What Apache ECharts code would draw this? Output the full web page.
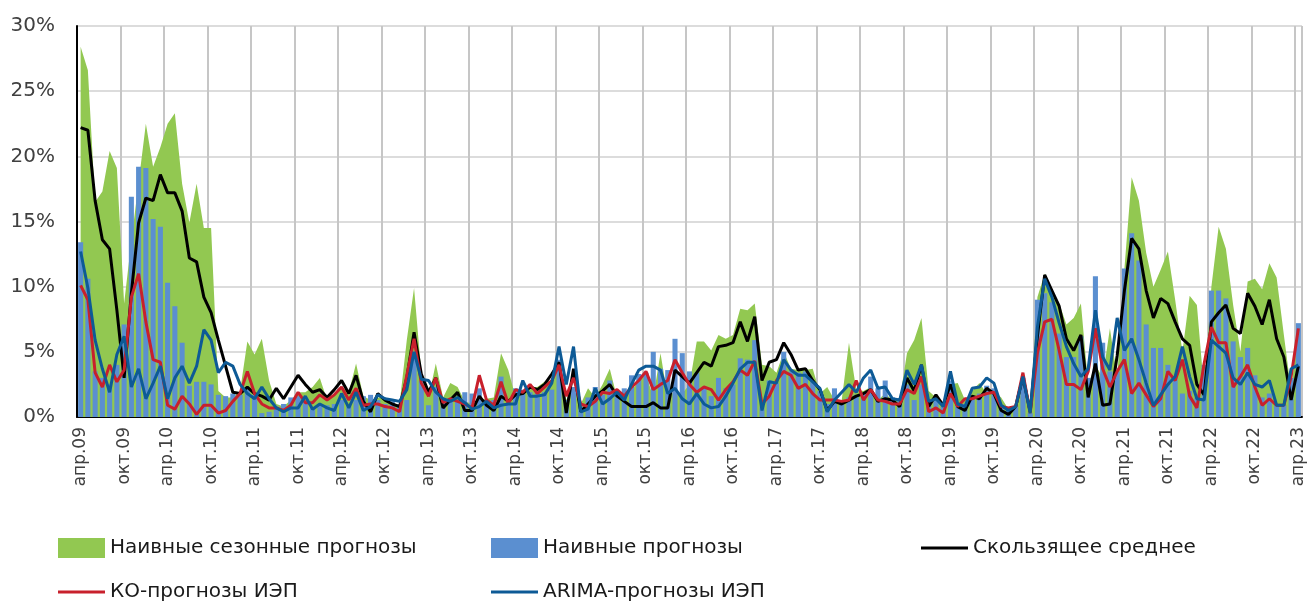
<!DOCTYPE html>
<html>
<head>
<meta charset="utf-8">
<script src="https://cdn.jsdelivr.net/npm/echarts@6/dist/echarts.min.js"></script>
<style>
  html, body { margin: 0; padding: 0; background: #fff; }
  .box { width: 1312px; height: 605px; }
</style>
</head>
<body>
<div class="box"></div>
<script>
// months apr.09 .. apr.23, only apr / okt are labelled
const monthNames = ['апр', 'май', 'июн', 'июл', 'авг', 'сен', 'окт', 'ноя', 'дек', 'янв', 'фев', 'мар'];
const firstYear = 9;
const monthCount = 169;

// naive seasonal forecasts, % (green area)
const seasonal = [
    28.4, 26.6, 16.5, 17.3, 20.4, 19.1, 8.7, 13.5, 18.0, 22.5, 19.2, 20.7,
    22.5, 23.3, 17.9, 14.9, 17.9, 14.5, 14.5, 2.0, 1.5, 1.5, 2.0, 5.8,
    4.8, 6.0, 2.8, 1.0, 0.8, 1.3, 1.9, 1.9, 2.3, 3.0, 1.3, 1.8,
    2.3, 1.9, 4.1, 1.6, 1.3, 1.5, 1.5, 1.0, 1.0, 5.9, 9.9, 3.4,
    1.5, 4.1, 1.5, 2.6, 2.3, 1.2, 1.0, 1.3, 1.4, 1.5, 4.9, 3.6,
    1.5, 2.0, 2.3, 2.3, 2.7, 2.8, 3.9, 1.3, 2.3, 1.0, 2.2, 1.5,
    2.5, 3.7, 1.5, 1.5, 2.0, 2.8, 3.3, 1.5, 4.9, 1.5, 2.0, 1.8,
    2.5, 5.8, 5.8, 5.1, 6.3, 6.0, 6.3, 8.3, 8.2, 8.7, 4.0, 3.9,
    3.4, 5.0, 3.7, 3.6, 3.6, 3.7, 1.8, 2.3, 1.3, 1.3, 5.7, 2.1,
    2.0, 2.3, 1.3, 1.8, 1.3, 1.3, 4.9, 5.9, 7.6, 2.0, 1.5, 1.0,
    2.5, 2.6, 1.3, 2.0, 2.6, 1.8, 2.0, 1.5, 0.6, 0.8, 2.5, 0.3,
    9.2, 11.0, 9.7, 8.7, 7.1, 7.6, 8.7, 2.5, 4.0, 3.0, 6.8, 3.0,
    11.4, 18.4, 16.6, 12.6, 10.0, 11.3, 12.7, 9.0, 5.0, 9.3, 8.6, 2.0,
    10.0, 14.6, 12.9, 8.6, 5.0, 10.4, 10.6, 9.8, 11.8, 10.7, 6.3, 2.0,
    7.0
];

// naive forecasts, % (blue bars)
const naive = [
    13.4, 10.6, 3.5, 3.0, 2.5, 4.0, 7.1, 16.9, 19.2, 19.1, 15.2, 14.6,
    10.3, 8.5, 5.7, 2.4, 2.7, 2.7, 2.5, 1.7, 1.6, 1.8, 1.7, 2.3,
    1.7, 0.3, 0.4, 0.8, 1.0, 1.5, 1.6, 1.2, 0.7, 1.0, 0.9, 1.0,
    1.3, 0.9, 1.3, 1.6, 1.7, 1.3, 1.0, 1.2, 1.0, 1.3, 5.0, 2.8,
    0.9, 2.3, 1.3, 1.4, 1.3, 1.9, 1.8, 2.2, 1.3, 1.3, 3.1, 1.0,
    2.2, 2.1, 1.9, 1.8, 1.9, 2.1, 4.4, 1.3, 2.3, 0.8, 1.5, 2.3,
    1.7, 2.8, 1.6, 2.2, 3.2, 3.3, 3.4, 5.0, 3.7, 3.6, 6.0, 4.9,
    3.5, 3.4, 2.3, 1.6, 3.0, 2.2, 2.5, 4.5, 4.4, 5.9, 0.8, 2.8,
    2.6, 5.0, 3.5, 3.4, 3.5, 2.7, 2.0, 1.0, 2.2, 1.3, 1.5, 1.7,
    1.8, 3.1, 2.2, 2.8, 1.5, 1.3, 2.5, 1.3, 2.5, 1.2, 1.3, 0.8,
    2.8, 1.0, 1.0, 1.5, 1.8, 2.4, 2.2, 0.9, 0.6, 0.8, 3.0, 0.3,
    9.0, 9.5, 8.8, 6.4, 4.6, 4.6, 6.2, 3.0, 10.8, 5.7, 3.5, 3.5,
    11.4, 14.1, 12.0, 7.1, 5.3, 5.3, 4.0, 3.0, 1.8, 2.0, 1.5, 4.0,
    9.7, 9.7, 9.1, 5.8, 4.6, 5.3, 3.2, 1.5, 1.8, 0.9, 0.9, 3.0,
    7.2
];

// moving average, % (black line)
const movingAvg = [
    22.2, 22.0, 16.6, 13.6, 12.9, 8.2, 3.0, 9.5, 14.9, 16.8, 16.6, 18.6,
    17.2, 17.2, 15.8, 12.2, 11.9, 9.2, 8.0, 5.9, 3.9, 1.9, 1.8, 2.3,
    1.8, 1.6, 1.3, 2.2, 1.4, 2.3, 3.2, 2.5, 1.9, 2.1, 1.5, 2.1,
    2.8, 1.8, 3.2, 1.2, 0.4, 1.8, 1.3, 1.0, 0.8, 3.0, 6.5, 3.3,
    1.9, 3.0, 0.7, 1.3, 1.9, 0.5, 0.5, 1.6, 0.9, 0.5, 1.6, 1.2,
    1.7, 1.8, 2.3, 2.1, 2.5, 3.3, 4.2, 0.3, 3.7, 0.4, 1.0, 1.6,
    2.0, 2.5, 1.6, 1.2, 0.8, 0.8, 0.8, 1.1, 0.7, 0.7, 3.6, 3.1,
    2.6, 3.4, 4.2, 3.9, 5.4, 5.5, 5.7, 7.3, 5.8, 7.7, 2.8, 4.2,
    4.4, 5.7, 4.8, 3.6, 3.7, 2.8, 2.1, 0.5, 1.2, 1.0, 1.3, 1.6,
    1.8, 2.1, 1.2, 1.4, 1.3, 0.8, 3.0, 2.0, 4.0, 0.8, 1.7, 0.9,
    2.5, 0.8, 0.5, 1.6, 1.4, 2.2, 1.8, 0.5, 0.2, 0.8, 3.1, 0.4,
    6.2, 10.9, 9.7, 8.5, 6.0, 5.1, 6.3, 1.5, 4.1, 0.9, 1.0, 4.7,
    9.7, 13.7, 12.9, 9.7, 7.6, 9.1, 8.7, 7.3, 6.0, 5.5, 2.5, 1.7,
    7.3, 8.0, 8.6, 6.8, 6.4, 9.5, 8.5, 7.1, 9.0, 6.0, 4.6, 1.3,
    3.9
];

// KO forecasts of IEP, % (red line)
const koForecast = [
    10.1, 9.0, 3.4, 2.3, 4.0, 2.7, 3.6, 9.2, 11.0, 7.3, 4.4, 4.2,
    0.9, 0.6, 1.6, 1.0, 0.2, 0.9, 0.9, 0.3, 0.5, 1.2, 1.8, 3.5,
    1.8, 1.0, 0.7, 0.7, 0.5, 0.9, 1.9, 1.1, 1.1, 1.7, 1.3, 1.7,
    2.3, 1.3, 2.2, 0.9, 1.0, 1.0, 0.8, 0.7, 0.4, 3.2, 6.0, 2.6,
    1.6, 3.0, 1.1, 1.4, 1.2, 1.0, 0.7, 3.2, 1.3, 0.9, 2.7, 1.0,
    2.1, 1.9, 2.5, 1.8, 2.3, 2.8, 4.0, 1.6, 3.0, 1.0, 0.8, 1.2,
    1.9, 1.8, 2.1, 1.6, 2.3, 2.8, 3.5, 2.1, 2.5, 2.8, 4.4, 3.4,
    2.5, 1.9, 2.3, 2.1, 1.3, 2.1, 2.7, 3.6, 3.2, 4.3, 1.0, 1.6,
    2.8, 3.5, 3.2, 2.2, 2.5, 1.8, 1.3, 1.3, 1.3, 1.2, 1.3, 2.8,
    1.3, 2.1, 1.3, 1.2, 1.0, 1.0, 2.1, 1.8, 3.1, 0.4, 0.7, 0.3,
    1.8, 0.8, 1.4, 1.4, 1.6, 1.8, 1.9, 0.8, 0.7, 0.8, 3.4, 0.3,
    4.9, 7.3, 7.5, 5.1, 2.5, 2.5, 2.1, 3.5, 6.8, 3.7, 2.3, 3.5,
    4.4, 1.8, 2.6, 1.7, 0.8, 1.4, 3.5, 2.8, 4.4, 1.6, 0.7, 4.1,
    6.9, 5.7, 5.7, 2.3, 3.1, 4.0, 2.3, 0.9, 1.4, 0.9, 0.9, 3.1,
    6.8
];

// ARIMA forecasts of IEP, % (dark blue line)
const arimaForecast = [
    12.7, 9.9, 5.9, 3.7, 1.9, 4.8, 6.2, 2.3, 3.7, 1.4, 2.6, 3.9,
    1.4, 3.0, 3.9, 2.6, 3.9, 6.7, 5.9, 3.4, 4.2, 3.9, 2.5, 1.8,
    1.4, 2.3, 1.4, 0.7, 0.4, 0.7, 0.7, 1.6, 0.6, 1.0, 0.7, 0.5,
    1.8, 0.7, 1.9, 0.5, 0.8, 1.7, 1.4, 1.3, 1.2, 2.1, 5.0, 2.9,
    2.8, 1.9, 1.4, 1.2, 1.5, 1.1, 0.6, 0.8, 1.2, 0.7, 0.9, 1.0,
    1.0, 2.8, 1.6, 1.6, 1.7, 2.6, 5.4, 2.5, 5.4, 0.4, 0.6, 2.2,
    1.0, 1.4, 1.9, 1.3, 2.5, 3.6, 3.9, 3.9, 3.6, 1.8, 2.2, 1.4,
    1.0, 1.8, 1.0, 0.7, 0.8, 1.6, 2.6, 3.7, 4.2, 4.2, 0.5, 2.7,
    2.6, 4.4, 3.6, 3.2, 3.2, 2.7, 2.2, 0.4, 1.3, 1.9, 2.5, 1.9,
    3.0, 3.6, 2.2, 2.3, 1.4, 1.3, 3.6, 2.5, 4.0, 1.2, 1.4, 0.8,
    3.5, 1.0, 0.8, 2.2, 2.3, 3.0, 2.6, 0.9, 0.5, 0.8, 3.1, 0.3,
    6.9, 10.6, 9.2, 7.2, 5.4, 4.1, 3.1, 3.7, 8.2, 4.6, 3.6, 7.6,
    5.1, 6.0, 4.4, 2.6, 0.9, 1.7, 2.5, 3.1, 5.4, 3.1, 1.4, 1.3,
    5.9, 5.4, 4.9, 3.0, 2.5, 3.4, 2.5, 2.3, 2.8, 0.9, 0.9, 3.7,
    4.0
];

const names = ['Наивные сезонные прогнозы', 'Наивные прогнозы', 'Скользящее среднее', 'КО-прогнозы ИЭП', 'ARIMA-прогнозы ИЭП'];

const categories = [];
for (let i = 0; i < monthCount; i++) {
    const yy = firstYear + Math.floor((i + 3) / 12);
    categories.push(monthNames[i % 12] + '.' + String(yy).padStart(2, '0'));
}

const chartDom = document.getElementsByClassName('box')[0];
const myChart = echarts.init(chartDom);
const font = 'DejaVu Sans';

// one legend block per item, so each can sit where the original puts it
function legendItem(name, left, centerY, isLine) {
    const h = isLine ? 3 : 20;
    return {
        data: [{ name: name, icon: 'rect' }],
        left: left,
        top: centerY - 12,
        padding: 0,
        itemWidth: 47,
        itemHeight: h,
        itemGap: 0,
        selectedMode: false,
        textStyle: { fontFamily: font, fontSize: 20, color: '#1a1a1a', lineHeight: 24 }
    };
}

const option = {
    animation: false,
    legend: [
        legendItem(names[0], 58, 548, false),
        legendItem(names[1], 491, 548, false),
        legendItem(names[2], 921, 548, true),
        legendItem(names[3], 58, 592, true),
        legendItem(names[4], 491, 592, true)
    ],
    grid: { left: 77, right: 10, top: 26, bottom: 188 },
    xAxis: {
        type: 'category',
        data: categories,
        boundaryGap: true,
        axisLine: { lineStyle: { color: '#000', width: 2 } },
        axisTick: { interval: 5, length: 6, lineStyle: { color: '#7f7f7f' } },
        axisLabel: {
            interval: 5,
            rotate: 90,
            fontFamily: font,
            fontSize: 17,
            color: '#404040',
            margin: 10
        },
        splitLine: { show: true, interval: 5, lineStyle: { color: '#c6c6c6', width: 2 } }
    },
    yAxis: {
        type: 'value',
        min: 0,
        max: 30,
        interval: 5,
        axisLine: { show: true, lineStyle: { color: '#000', width: 2 } },
        axisLabel: {
            formatter: '{value}%',
            fontFamily: font,
            fontSize: 20,
            color: '#404040',
            margin: 22
        },
        splitLine: { lineStyle: { color: '#dcdcdc', width: 2 } }
    },
    series: [
        {
            name: names[0],
            type: 'line',
            data: seasonal,
            symbol: 'none',
            lineStyle: { width: 0 },
            areaStyle: { color: '#92c851', opacity: 1 },
            itemStyle: { color: '#92c851' },
            z: 1
        },
        {
            name: names[1],
            type: 'bar',
            data: naive,
            barWidth: '70%',
            itemStyle: { color: '#5b8fd0' },
            z: 2
        },
        {
            name: names[2],
            type: 'line',
            data: movingAvg,
            symbol: 'none',
            lineStyle: { color: '#000', width: 3 },
            itemStyle: { color: '#000' },
            z: 3
        },
        {
            name: names[3],
            type: 'line',
            data: koForecast,
            symbol: 'none',
            lineStyle: { color: '#c8202c', width: 3 },
            itemStyle: { color: '#c8202c' },
            z: 4
        },
        {
            name: names[4],
            type: 'line',
            data: arimaForecast,
            symbol: 'none',
            lineStyle: { color: '#0d5a96', width: 3 },
            itemStyle: { color: '#0d5a96' },
            z: 5
        }
    ]
};

myChart.setOption(option);
</script>
</body>
</html>
